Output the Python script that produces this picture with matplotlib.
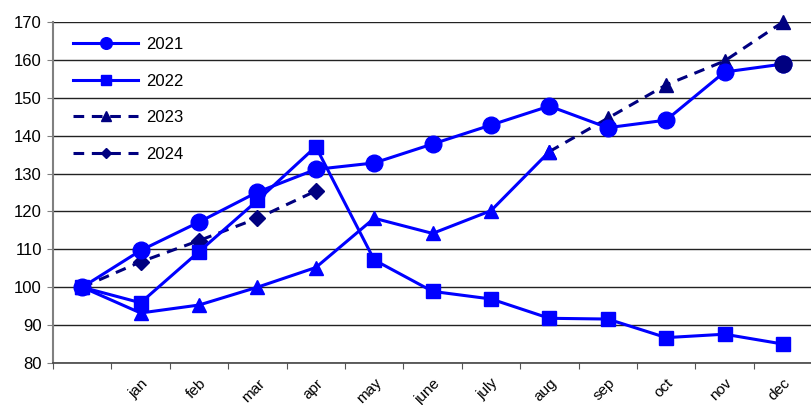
import numpy as np
import matplotlib
matplotlib.use("Agg")
from matplotlib import pyplot as plt

plt.rcParams['font.family'] = ['Liberation Sans', 'DejaVu Sans']

months = ['', 'jan', 'feb', 'mar', 'apr', 'may', 'june', 'july', 'aug',
          'sep', 'oct', 'nov', 'dec']
y2021 = [100, 109.7, 117.2, 125.1, 131.1, 132.8, 137.8, 142.8, 147.8,
         142.1, 144.1, 156.8, 158.9]
y2022 = [100, 95.9, 109.4, 122.9, 137.1, 107.2, 98.9, 96.9, 91.8,
         91.6, 86.7, 87.6, 85.0]
y2023 = [100, 93.2, 95.3, 100.0, 105.2, 118.2, 114.2, 120.2, 135.8,
         144.6, 153.4, 159.7, 170.0]
y2024 = [100, 106.7, 112.3, 118.2, 125.4]
last_actual_2023 = 8  # aug, after that the dashed forecast

blue = '#0000FF'
navy = '#000080'

x = np.arange(len(months))

fig = plt.figure(figsize=(8.11, 4.05), dpi=100)
ax = fig.add_axes([0.0654, 0.1037, 0.936, 0.842])

dash = (3.5, 2.5)
ax.plot(x[:len(y2024)], y2024, color=navy, lw=2.2, dashes=dash,
        marker='D', ms=8, label='2024', zorder=3, clip_on=False)
k = last_actual_2023
ax.plot(x[k:], y2023[k:], color=navy, lw=2.2, dashes=dash,
        marker='^', ms=10, label='2023', zorder=3, clip_on=False)
ax.plot(x[:k + 1], y2023[:k + 1], color=blue, lw=2.2,
        marker='^', ms=10, label='_nolegend_', zorder=4, clip_on=False)
ax.plot(x, y2022, color=blue, lw=2.2, marker='s', ms=10,
        label='2022', zorder=4, clip_on=False)
ax.plot(x, y2021, color=blue, lw=2.2, marker='o', ms=12,
        label='2021', zorder=5, clip_on=False)
ax.plot(x[-1], y2021[-1], 'o', color=navy, ms=12, zorder=6, clip_on=False)

ax.set_xlim(-0.5, len(months) - 0.5)
ax.set_ylim(80, 170)
ax.set_yticks(np.arange(80, 171, 10))

ax.set_xticks(np.arange(-0.5, len(months), 1))
ax.set_xticklabels([])
ax.set_xticks(x[1:], minor=True)
ax.set_xticklabels(months[1:], minor=True, rotation=45, ha='right',
                   rotation_mode='anchor', fontsize=11)
ax.tick_params(axis='x', which='minor', length=0, pad=9.5)
ax.tick_params(axis='x', which='major', length=4, color='#555555')
ax.tick_params(axis='y', length=4, color='#808080', labelsize=12, pad=4)

ax.yaxis.grid(True, color='#222222', lw=1)
ax.set_axisbelow(True)
for s in ['top', 'right']:
    ax.spines[s].set_visible(False)
ax.spines['left'].set_color('#808080')
ax.spines['left'].set_linewidth(1.5)
ax.spines['bottom'].set_color('#444444')
ax.spines['bottom'].set_linewidth(1.2)

h, l = ax.get_legend_handles_labels()
order = [l.index(n) for n in ['2021', '2022', '2023', '2024']]
ax.legend([h[i] for i in order], [l[i] for i in order], loc='upper left',
          bbox_to_anchor=(0.018, 0.976), frameon=False, fontsize=12,
          handlelength=3.9, handletextpad=0.45, labelspacing=1.3,
          markerscale=0.7, borderaxespad=0)

plt.savefig('out.png', dpi=100)
